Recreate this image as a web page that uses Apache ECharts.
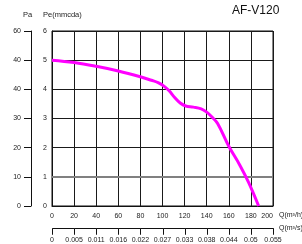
<!DOCTYPE html>
<html><head><meta charset="utf-8">
<script src="https://cdn.jsdelivr.net/npm/echarts@6/dist/echarts.min.js"></script>
<style>html,body{margin:0;padding:0;background:#fff}#c{width:302px;height:244px}</style>
</head><body><div id="c"></div>
<script>
const flowM3h = [0, 20, 40, 60, 80, 90, 96, 101, 106, 111, 116, 121, 128, 135, 140, 145, 150, 160, 170, 178, 187];
const pressureMmcda = [5.0, 4.92, 4.79, 4.63, 4.43, 4.31, 4.23, 4.12, 3.95, 3.72, 3.53, 3.43, 3.39, 3.33, 3.22, 3.04, 2.82, 2.05, 1.4, 0.8, 0];
const peTicks = ["0", "1", "2", "3", "4", "5", "6"];
const paTicks = ["0", "10", "20", "30", "40", "40", "60"];
const qhTicks = ["0", "20", "40", "60", "80", "100", "120", "140", "160", "180", "200"];
const qsTicks = ["0", "0.005", "0.011", "0.016", "0.022", "0.027", "0.033", "0.038", "0.044", "0.05", "0.055"];
const title = "AF-V120";

const chart = echarts.init(document.getElementById('c'));
const F = 'Liberation Sans, Arial, sans-serif';
const lab = {fontFamily: F, fontSize: 7, color: '#222'};

const texts = [
  {type: 'text', left: 232, top: 5, style: {text: title, font: '12px ' + F, fill: '#111'}},
  {type: 'text', left: 23, top: 11, style: {text: 'Pa', font: '7.5px ' + F, fill: '#222'}},
  {type: 'text', left: 43, top: 11, style: {text: 'Pe(mmcda)', font: '7.5px ' + F, fill: '#222'}},
  {type: 'text', left: 279, top: 212, style: {text: 'Q(m³/h)', font: '7px ' + F, fill: '#222'}},
  {type: 'text', left: 279, top: 225, style: {text: 'Q(m³/s)', font: '7px ' + F, fill: '#222'}}
];

chart.setOption({
  animation: false,
  grid: [
    {left: 52, top: 31, width: 221, height: 175, show: true, borderColor: '#111', borderWidth: 1},
    {left: 52, top: 228, width: 221, height: 7, show: false}
  ],
  xAxis: [{
    gridIndex: 0, type: 'value', min: 0, max: 200, interval: 20, position: 'bottom',
    axisLine: {show: true, onZero: false, lineStyle: {color: '#111'}},
    axisTick: {show: false},
    axisLabel: Object.assign({margin: 7, showMaxLabel: true, showMinLabel: true, hideOverlap: false, alignMaxLabel: 'right', formatter: (v) => qhTicks[Math.round(v / 20)]}, lab),
    splitLine: {show: true, lineStyle: {color: '#1a1a1a', width: 1}}
  }, {
    gridIndex: 1, type: 'value', min: 0, max: 200, interval: 20, position: 'bottom',
    axisLine: {show: false},
    axisTick: {show: false},
    axisLabel: Object.assign({margin: 3, showMaxLabel: true, showMinLabel: true, hideOverlap: false, formatter: (v) => qsTicks[Math.round(v / 20)]}, lab),
    splitLine: {show: false}
  }],
  yAxis: [{
    gridIndex: 0, type: 'value', min: 0, max: 6, interval: 1, position: 'left',
    axisLine: {show: true, onZero: false, lineStyle: {color: '#111'}},
    axisTick: {show: false},
    axisLabel: Object.assign({margin: 5, formatter: (v) => peTicks[Math.round(v)]}, lab),
    splitLine: {show: true, lineStyle: {color: '#1a1a1a', width: 1}}
  }, {
    gridIndex: 0, type: 'value', min: 0, max: 6, interval: 1, position: 'left', offset: 21,
    axisLine: {show: true, onZero: false, lineStyle: {color: '#111'}},
    axisTick: {show: true, length: 7, lineStyle: {color: '#111'}},
    axisLabel: Object.assign({margin: 10, formatter: (v) => paTicks[Math.round(v)]}, lab),
    splitLine: {show: false}
  }, {
    gridIndex: 1, type: 'value', min: 0, max: 1, show: false
  }],
  graphic: texts,
  series: [{
    type: 'line', xAxisIndex: 0, yAxisIndex: 0,
    data: flowM3h.map((x, i) => [x, pressureMmcda[i]]),
    smooth: 0.4, showSymbol: false,
    lineStyle: {color: '#ff00ff', width: 3},
    markLine: {silent: true, symbol: 'none', label: {show: false},
      lineStyle: {color: '#808080', width: 2, type: 'solid'},
      data: [{yAxis: 1}]},
    z: 5
  }, {
    type: 'line', xAxisIndex: 1, yAxisIndex: 2, data: [], silent: true
  }]
});

// m3/s scale bracket: positions taken from the library's own x scale
const pts = [];
qhTicks.forEach((t) => {
  const p = chart.convertToPixel({gridIndex: 0}, [Number(t), 0]);
  const x = Math.round(p[0]) + 0.5;
  const yl = Math.round(p[1]) + 22.5;
  pts.push([x, yl], [x, yl + 6], [x, yl]);
});
chart.setOption({graphic: texts.concat([{
  type: 'polyline', shape: {points: pts}, style: {stroke: '#111', lineWidth: 1, fill: null}, z: 10
}])});
</script></body></html>
